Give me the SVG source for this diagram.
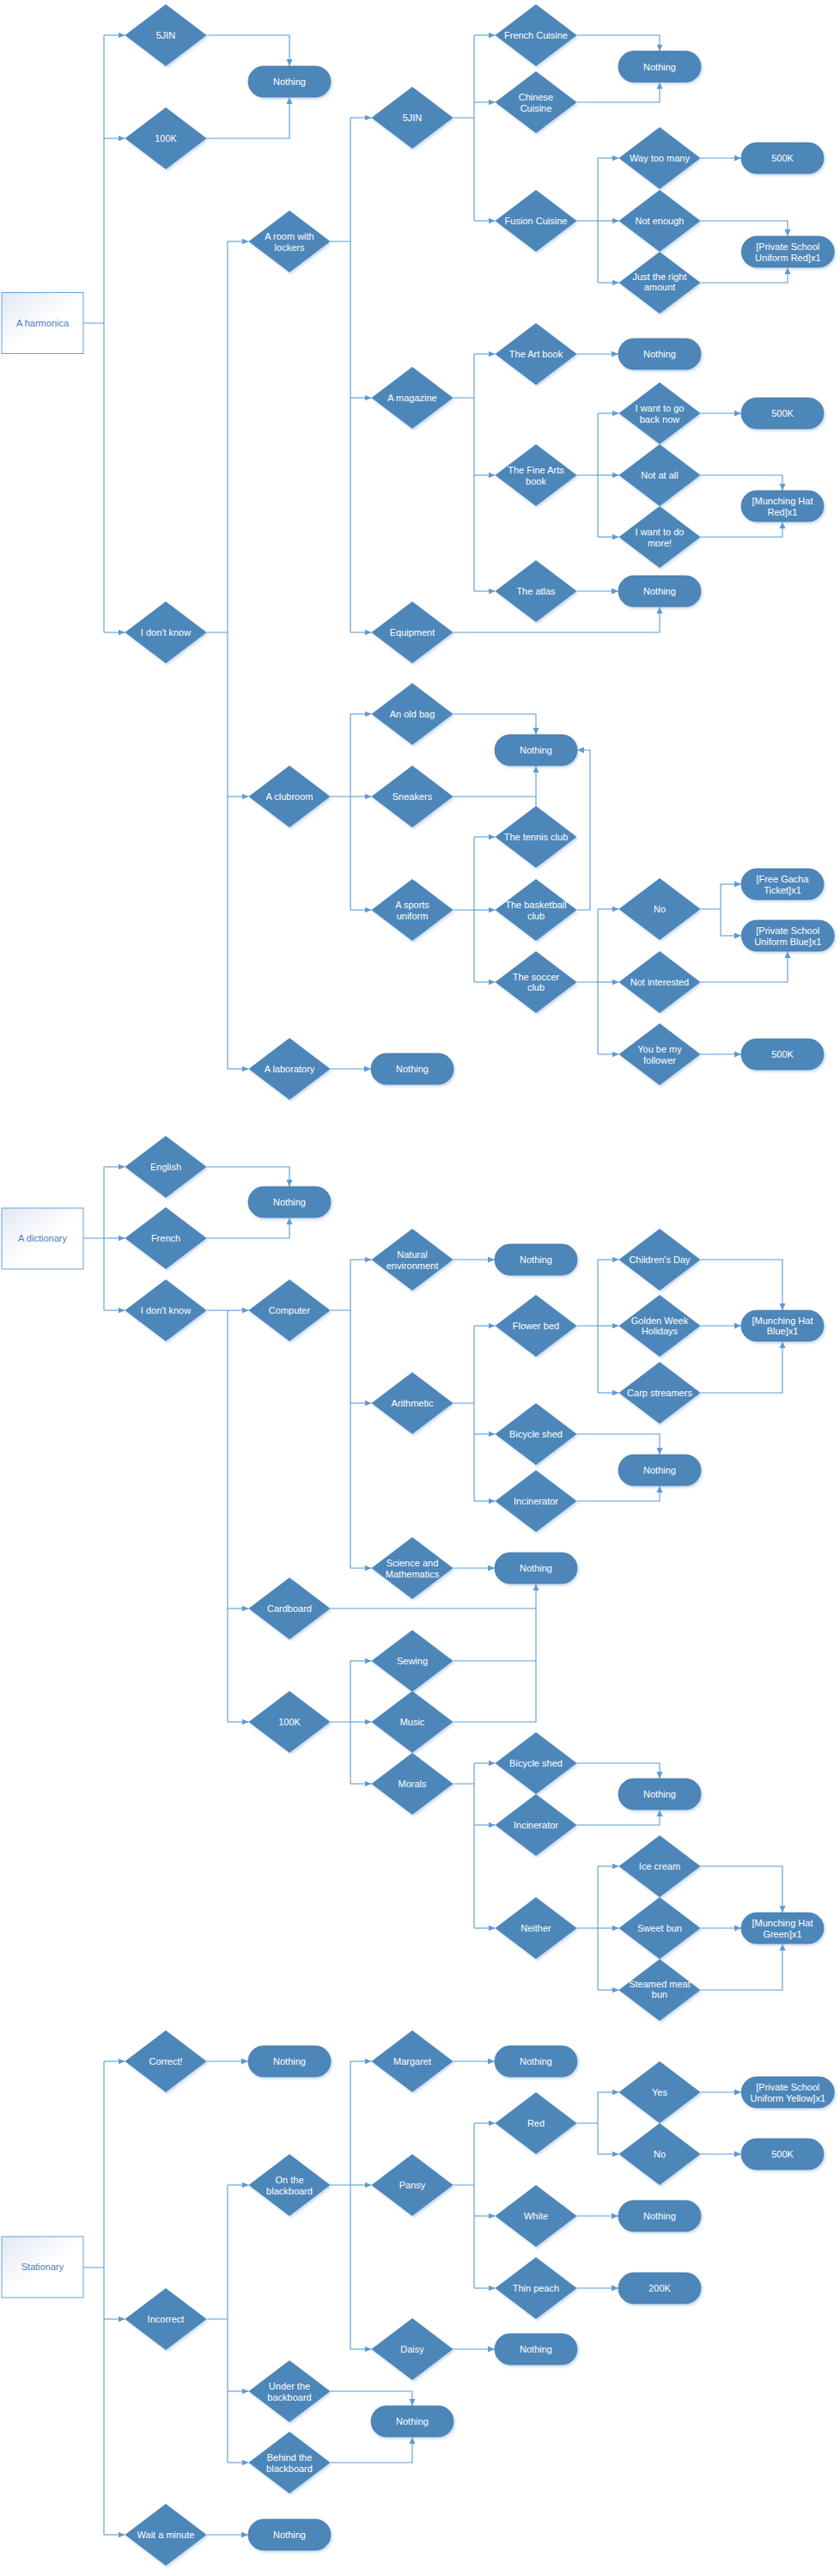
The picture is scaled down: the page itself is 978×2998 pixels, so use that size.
<svg xmlns="http://www.w3.org/2000/svg" xmlns:xlink="http://www.w3.org/1999/xlink" width="978" height="2998" viewBox="0 0 978 2998">
<style>
.t{font-family:"Liberation Sans",Arial,sans-serif;font-size:11px;fill:#ffffff;text-anchor:middle}
.rt{font-family:"Liberation Sans",Arial,sans-serif;font-size:11px;fill:#4A7EBB;text-anchor:middle}
.c{fill:none;stroke:#5B9BD5;stroke-width:1.1}
.a{marker-end:url(#arr)}
.n{filter:url(#sh)}
</style>
<defs>
<marker id="arr" markerWidth="9" markerHeight="8" refX="8" refY="4" orient="auto" markerUnits="userSpaceOnUse"><path d="M0,0.5 L8,4 L0,7.5 z" fill="#5B9BD5"/></marker>
<filter id="sh" x="-20%" y="-20%" width="150%" height="150%"><feDropShadow dx="1.5" dy="2" stdDeviation="1.5" flood-color="#9DC0E8" flood-opacity="0.6"/></filter>
<linearGradient id="rg" x1="0" y1="0" x2="1" y2="1"><stop offset="0" stop-color="#E2E8F4"/><stop offset="0.55" stop-color="#FFFFFF"/></linearGradient>
<polygon id="dia" points="0,-36 47.5,0 0,36 -47.5,0" fill="#4E86B9"/>
<rect id="term" x="-48" y="-18" width="96" height="36" rx="18" fill="#4E86B9" stroke="#4577A8" stroke-width="0.8"/>
<rect id="termw" x="-54" y="-18" width="108" height="36" rx="18" fill="#4E86B9" stroke="#4577A8" stroke-width="0.8"/>
</defs>
<rect width="978" height="2998" fill="#ffffff"/>

<g id="connectors">
<!-- Section 1 -->
<path class="c" d="M97,376 H121 M121,41 V736"/>
<path class="c a" d="M121,41 H145.5"/>
<path class="c a" d="M121,161 H145.5"/>
<path class="c a" d="M121,736 H145.5"/>
<path class="c a" d="M240.5,41 H337 V77"/>
<path class="c a" d="M240.5,161 H337 V113"/>
<path class="c" d="M240.5,736 H265 M265,281 V1244"/>
<path class="c a" d="M265,281 H289.5"/>
<path class="c a" d="M265,927 H289.5"/>
<path class="c a" d="M265,1244 H289.5"/>
<path class="c" d="M384.5,281 H408 M408,137 V736"/>
<path class="c a" d="M408,137 H432.5"/>
<path class="c a" d="M408,463 H432.5"/>
<path class="c a" d="M408,736 H432.5"/>
<path class="c" d="M527.5,137 H552 M552,41 V257"/>
<path class="c a" d="M552,41 H576.5"/>
<path class="c a" d="M552,119 H576.5"/>
<path class="c a" d="M552,257 H576.5"/>
<path class="c a" d="M671.5,41 H768 V59.5"/>
<path class="c a" d="M671.5,119 H768 V95.5"/>
<path class="c" d="M671.5,257 H696 M696,184 V329"/>
<path class="c a" d="M696,184 H720.5"/>
<path class="c a" d="M696,257 H720.5"/>
<path class="c a" d="M696,329 H720.5"/>
<path class="c a" d="M815.5,184 H863"/>
<path class="c a" d="M815.5,257 H917 V275"/>
<path class="c a" d="M815.5,329 H917 V311"/>
<path class="c" d="M527.5,463 H552 M552,412 V688"/>
<path class="c a" d="M552,412 H576.5"/>
<path class="c a" d="M552,553 H576.5"/>
<path class="c a" d="M552,688 H576.5"/>
<path class="c a" d="M671.5,412 H720"/>
<path class="c" d="M671.5,553 H696 M696,481 V625"/>
<path class="c a" d="M696,481 H720.5"/>
<path class="c a" d="M696,553 H720.5"/>
<path class="c a" d="M696,625 H720.5"/>
<path class="c a" d="M815.5,481 H863"/>
<path class="c a" d="M815.5,553 H911 V571"/>
<path class="c a" d="M815.5,625 H911 V607"/>
<path class="c a" d="M671.5,688 H720"/>
<path class="c a" d="M527.5,736 H768 V706"/>
<path class="c" d="M384.5,927 H408 M408,831 V1059"/>
<path class="c a" d="M408,831 H432.5"/>
<path class="c a" d="M408,927 H432.5"/>
<path class="c a" d="M408,1059 H432.5"/>
<path class="c a" d="M527.5,831 H624 V855"/>
<path class="c" d="M527.5,927 H624"/>
<path class="c a" d="M624,938 V891"/>
<path class="c" d="M527.5,1059 H552 M552,974 V1143"/>
<path class="c a" d="M552,974 H576.5"/>
<path class="c a" d="M552,1059 H576.5"/>
<path class="c a" d="M552,1143 H576.5"/>
<path class="c a" d="M671.5,1059 H687 V873 H672"/>
<path class="c" d="M671.5,1143 H696 M696,1058 V1227"/>
<path class="c a" d="M696,1058 H720.5"/>
<path class="c a" d="M696,1143 H720.5"/>
<path class="c a" d="M696,1227 H720.5"/>
<path class="c" d="M815.5,1058 H839 M839,1029 V1089"/>
<path class="c a" d="M839,1029 H863"/>
<path class="c a" d="M839,1089 H863"/>
<path class="c a" d="M815.5,1143 H917 V1107"/>
<path class="c a" d="M815.5,1227 H863"/>
<path class="c a" d="M384.5,1244 H432"/>
<!-- Section 2 -->
<path class="c" d="M97,1441 H121 M121,1358 V1525"/>
<path class="c a" d="M121,1358 H145.5"/>
<path class="c a" d="M121,1441 H145.5"/>
<path class="c a" d="M121,1525 H145.5"/>
<path class="c a" d="M240.5,1358 H337 V1381"/>
<path class="c a" d="M240.5,1441 H337 V1417"/>
<path class="c" d="M240.5,1525 H265 M265,1525 V2004"/>
<path class="c a" d="M265,1525 H289.5"/>
<path class="c a" d="M265,1872 H289.5"/>
<path class="c a" d="M265,2004 H289.5"/>
<path class="c" d="M384.5,1525 H408 M408,1466 V1825"/>
<path class="c a" d="M408,1466 H432.5"/>
<path class="c a" d="M408,1633 H432.5"/>
<path class="c a" d="M408,1825 H432.5"/>
<path class="c a" d="M527.5,1466 H576"/>
<path class="c" d="M527.5,1633 H552 M552,1543 V1747"/>
<path class="c a" d="M552,1543 H576.5"/>
<path class="c a" d="M552,1669 H576.5"/>
<path class="c a" d="M552,1747 H576.5"/>
<path class="c" d="M671.5,1543 H696 M696,1466 V1621"/>
<path class="c a" d="M696,1466 H720.5"/>
<path class="c a" d="M696,1543 H720.5"/>
<path class="c a" d="M696,1621 H720.5"/>
<path class="c a" d="M815.5,1466 H911 V1525"/>
<path class="c a" d="M815.5,1543 H863"/>
<path class="c a" d="M815.5,1621 H911 V1561"/>
<path class="c a" d="M671.5,1669 H768 V1693"/>
<path class="c a" d="M671.5,1747 H768 V1729"/>
<path class="c a" d="M527.5,1825 H576"/>
<path class="c" d="M384.5,1872 H624"/>
<path class="c" d="M384.5,2004 H408 M408,1933 V2076"/>
<path class="c a" d="M408,1933 H432.5"/>
<path class="c a" d="M408,2004 H432.5"/>
<path class="c a" d="M408,2076 H432.5"/>
<path class="c" d="M527.5,1933 H624"/>
<path class="c a" d="M527.5,2004 H624 V1843"/>
<path class="c" d="M527.5,2076 H552 M552,2052 V2244"/>
<path class="c a" d="M552,2052 H576.5"/>
<path class="c a" d="M552,2124 H576.5"/>
<path class="c a" d="M552,2244 H576.5"/>
<path class="c a" d="M671.5,2052 H768 V2070"/>
<path class="c a" d="M671.5,2124 H768 V2106"/>
<path class="c" d="M671.5,2244 H696 M696,2172 V2316"/>
<path class="c a" d="M696,2172 H720.5"/>
<path class="c a" d="M696,2244 H720.5"/>
<path class="c a" d="M696,2316 H720.5"/>
<path class="c a" d="M815.5,2172 H911 V2226"/>
<path class="c a" d="M815.5,2244 H863"/>
<path class="c a" d="M815.5,2316 H911 V2262"/>
<!-- Section 3 -->
<path class="c" d="M97,2639 H121 M121,2399 V2950"/>
<path class="c a" d="M121,2399 H145.5"/>
<path class="c a" d="M121,2699 H145.5"/>
<path class="c a" d="M121,2950 H145.5"/>
<path class="c a" d="M240.5,2399 H289"/>
<path class="c a" d="M240.5,2950 H289"/>
<path class="c" d="M240.5,2699 H265 M265,2543 V2866"/>
<path class="c a" d="M265,2543 H289.5"/>
<path class="c a" d="M265,2783 H289.5"/>
<path class="c a" d="M265,2866 H289.5"/>
<path class="c a" d="M384.5,2783 H480 V2800"/>
<path class="c a" d="M384.5,2866 H480 V2836"/>
<path class="c" d="M384.5,2543 H408 M408,2399 V2734"/>
<path class="c a" d="M408,2399 H432.5"/>
<path class="c a" d="M408,2543 H432.5"/>
<path class="c a" d="M408,2734 H432.5"/>
<path class="c a" d="M527.5,2399 H576"/>
<path class="c a" d="M527.5,2734 H576"/>
<path class="c" d="M527.5,2543 H552 M552,2471 V2663"/>
<path class="c a" d="M552,2471 H576.5"/>
<path class="c a" d="M552,2579 H576.5"/>
<path class="c a" d="M552,2663 H576.5"/>
<path class="c" d="M671.5,2471 H696 M696,2435 V2507"/>
<path class="c a" d="M696,2435 H720.5"/>
<path class="c a" d="M696,2507 H720.5"/>
<path class="c a" d="M815.5,2435 H863"/>
<path class="c a" d="M815.5,2507 H863"/>
<path class="c a" d="M671.5,2579 H720"/>
<path class="c a" d="M671.5,2663 H720"/>
</g>

<!-- Section 1 nodes -->
<g id="s1-root"><rect x="2" y="340.5" width="95" height="71" fill="url(#rg)" stroke="#6A9FD6" stroke-width="1"/><text class="rt" x="49.5" y="380">A harmonica</text></g>
<g id="s1-5jin"><use class="n" href="#dia" x="193" y="41"/><text class="t" x="193" y="45">5JIN</text></g>
<g id="s1-100k"><use class="n" href="#dia" x="193" y="161"/><text class="t" x="193" y="165">100K</text></g>
<g id="s1-nothing1"><use class="n" href="#term" x="337" y="95"/><text class="t" x="337" y="99">Nothing</text></g>
<g id="s1-idk"><use class="n" href="#dia" x="193" y="736"/><text class="t" x="193" y="740">I don't know</text></g>
<g id="s1-lockers"><use class="n" href="#dia" x="337" y="281"/><text class="t" x="337" y="278.5">A room with<tspan x="337" dy="13">lockers</tspan></text></g>
<g id="s1-clubroom"><use class="n" href="#dia" x="337" y="927"/><text class="t" x="337" y="931">A clubroom</text></g>
<g id="s1-lab"><use class="n" href="#dia" x="337" y="1244"/><text class="t" x="337" y="1248">A laboratory</text></g>
<g id="s1-lab-nothing"><use class="n" href="#term" x="480" y="1244"/><text class="t" x="480" y="1248">Nothing</text></g>
<g id="s1-5jin2"><use class="n" href="#dia" x="480" y="137"/><text class="t" x="480" y="141">5JIN</text></g>
<g id="s1-magazine"><use class="n" href="#dia" x="480" y="463"/><text class="t" x="480" y="467">A magazine</text></g>
<g id="s1-equipment"><use class="n" href="#dia" x="480" y="736"/><text class="t" x="480" y="740">Equipment</text></g>
<g id="s1-french"><use class="n" href="#dia" x="624" y="41"/><text class="t" x="624" y="45">French Cuisine</text></g>
<g id="s1-chinese"><use class="n" href="#dia" x="624" y="119"/><text class="t" x="624" y="116.5">Chinese<tspan x="624" dy="13">Cuisine</tspan></text></g>
<g id="s1-fusion"><use class="n" href="#dia" x="624" y="257"/><text class="t" x="624" y="261">Fusion Cuisine</text></g>
<g id="s1-cuisine-nothing"><use class="n" href="#term" x="768" y="77.5"/><text class="t" x="768" y="81.5">Nothing</text></g>
<g id="s1-waytoo"><use class="n" href="#dia" x="768" y="184"/><text class="t" x="768" y="188">Way too many</text></g>
<g id="s1-notenough"><use class="n" href="#dia" x="768" y="257"/><text class="t" x="768" y="261">Not enough</text></g>
<g id="s1-justright"><use class="n" href="#dia" x="768" y="329"/><text class="t" x="768" y="326">Just the right<tspan x="768" dy="12">amount</tspan></text></g>
<g id="s1-500k-a"><use class="n" href="#term" x="911" y="184"/><text class="t" x="911" y="188">500K</text></g>
<g id="s1-uniform-red"><use class="n" href="#termw" x="917.3" y="293"/><text class="t" x="917.3" y="290.5">[Private School<tspan x="917.3" dy="13">Uniform Red]x1</tspan></text></g>
<g id="s1-artbook"><use class="n" href="#dia" x="624" y="412"/><text class="t" x="624" y="416">The Art book</text></g>
<g id="s1-art-nothing"><use class="n" href="#term" x="768" y="412"/><text class="t" x="768" y="416">Nothing</text></g>
<g id="s1-finearts"><use class="n" href="#dia" x="624" y="553"/><text class="t" x="624" y="550.5">The Fine Arts<tspan x="624" dy="13">book</tspan></text></g>
<g id="s1-goback"><use class="n" href="#dia" x="768" y="481"/><text class="t" x="768" y="478.5">I want to go<tspan x="768" dy="13">back now</tspan></text></g>
<g id="s1-notatall"><use class="n" href="#dia" x="768" y="553"/><text class="t" x="768" y="557">Not at all</text></g>
<g id="s1-domore"><use class="n" href="#dia" x="768" y="625"/><text class="t" x="768" y="622.5">I want to do<tspan x="768" dy="13">more!</tspan></text></g>
<g id="s1-500k-b"><use class="n" href="#term" x="911" y="481"/><text class="t" x="911" y="485">500K</text></g>
<g id="s1-hat-red"><use class="n" href="#term" x="911" y="589"/><text class="t" x="911" y="586.5">[Munching Hat<tspan x="911" dy="13">Red]x1</tspan></text></g>
<g id="s1-atlas"><use class="n" href="#dia" x="624" y="688"/><text class="t" x="624" y="692">The atlas</text></g>
<g id="s1-atlas-nothing"><use class="n" href="#term" x="768" y="688"/><text class="t" x="768" y="692">Nothing</text></g>
<g id="s1-oldbag"><use class="n" href="#dia" x="480" y="831"/><text class="t" x="480" y="835">An old bag</text></g>
<g id="s1-sneakers"><use class="n" href="#dia" x="480" y="927"/><text class="t" x="480" y="931">Sneakers</text></g>
<g id="s1-sports"><use class="n" href="#dia" x="480" y="1059"/><text class="t" x="480" y="1056.5">A sports<tspan x="480" dy="13">uniform</tspan></text></g>
<g id="s1-club-nothing"><use class="n" href="#term" x="624" y="873"/><text class="t" x="624" y="877">Nothing</text></g>
<g id="s1-tennis"><use class="n" href="#dia" x="624" y="974"/><text class="t" x="624" y="978">The tennis club</text></g>
<g id="s1-basketball"><use class="n" href="#dia" x="624" y="1059"/><text class="t" x="624" y="1056.5">The basketball<tspan x="624" dy="13">club</tspan></text></g>
<g id="s1-soccer"><use class="n" href="#dia" x="624" y="1143"/><text class="t" x="624" y="1140.5">The soccer<tspan x="624" dy="12">club</tspan></text></g>
<g id="s1-no"><use class="n" href="#dia" x="768" y="1058"/><text class="t" x="768" y="1062">No</text></g>
<g id="s1-notint"><use class="n" href="#dia" x="768" y="1143"/><text class="t" x="768" y="1147">Not interested</text></g>
<g id="s1-follower"><use class="n" href="#dia" x="768" y="1227"/><text class="t" x="768" y="1224.5">You be my<tspan x="768" dy="13">follower</tspan></text></g>
<g id="s1-gacha"><use class="n" href="#term" x="911" y="1029"/><text class="t" x="911" y="1026.5">[Free Gacha<tspan x="911" dy="13">Ticket]x1</tspan></text></g>
<g id="s1-uniform-blue"><use class="n" href="#termw" x="917.3" y="1089"/><text class="t" x="917.3" y="1086.5">[Private School<tspan x="917.3" dy="13">Uniform Blue]x1</tspan></text></g>
<g id="s1-500k-c"><use class="n" href="#term" x="911" y="1227"/><text class="t" x="911" y="1231">500K</text></g>

<!-- Section 2 nodes -->
<g id="s2-root"><rect x="2" y="1406" width="95" height="71" fill="url(#rg)" stroke="#6A9FD6" stroke-width="1"/><text class="rt" x="49.5" y="1445">A dictionary</text></g>
<g id="s2-english"><use class="n" href="#dia" x="193" y="1358"/><text class="t" x="193" y="1362">English</text></g>
<g id="s2-french"><use class="n" href="#dia" x="193" y="1441"/><text class="t" x="193" y="1445">French</text></g>
<g id="s2-nothing1"><use class="n" href="#term" x="337" y="1399"/><text class="t" x="337" y="1403">Nothing</text></g>
<g id="s2-idk"><use class="n" href="#dia" x="193" y="1525"/><text class="t" x="193" y="1529">I don't know</text></g>
<g id="s2-computer"><use class="n" href="#dia" x="337" y="1525"/><text class="t" x="337" y="1529">Computer</text></g>
<g id="s2-cardboard"><use class="n" href="#dia" x="337" y="1872"/><text class="t" x="337" y="1876">Cardboard</text></g>
<g id="s2-100k"><use class="n" href="#dia" x="337" y="2004"/><text class="t" x="337" y="2008">100K</text></g>
<g id="s2-natural"><use class="n" href="#dia" x="480" y="1466"/><text class="t" x="480" y="1463.5">Natural<tspan x="480" dy="13">environment</tspan></text></g>
<g id="s2-natural-nothing"><use class="n" href="#term" x="624" y="1466"/><text class="t" x="624" y="1470">Nothing</text></g>
<g id="s2-arith"><use class="n" href="#dia" x="480" y="1633"/><text class="t" x="480" y="1637">Arithmetic</text></g>
<g id="s2-science"><use class="n" href="#dia" x="480" y="1825"/><text class="t" x="480" y="1822.5">Science and<tspan x="480" dy="13">Mathematics</tspan></text></g>
<g id="s2-science-nothing"><use class="n" href="#term" x="624" y="1825"/><text class="t" x="624" y="1829">Nothing</text></g>
<g id="s2-flower"><use class="n" href="#dia" x="624" y="1543"/><text class="t" x="624" y="1547">Flower bed</text></g>
<g id="s2-bike"><use class="n" href="#dia" x="624" y="1669"/><text class="t" x="624" y="1673">Bicycle shed</text></g>
<g id="s2-incin"><use class="n" href="#dia" x="624" y="1747"/><text class="t" x="624" y="1751">Incinerator</text></g>
<g id="s2-bike-nothing"><use class="n" href="#term" x="768" y="1711"/><text class="t" x="768" y="1715">Nothing</text></g>
<g id="s2-children"><use class="n" href="#dia" x="768" y="1466"/><text class="t" x="768" y="1470">Children's Day</text></g>
<g id="s2-golden"><use class="n" href="#dia" x="768" y="1543"/><text class="t" x="768" y="1540.5">Golden Week<tspan x="768" dy="12">Holidays</tspan></text></g>
<g id="s2-carp"><use class="n" href="#dia" x="768" y="1621"/><text class="t" x="768" y="1625">Carp streamers</text></g>
<g id="s2-hat-blue"><use class="n" href="#term" x="911" y="1543"/><text class="t" x="911" y="1540.5">[Munching Hat<tspan x="911" dy="12">Blue]x1</tspan></text></g>
<g id="s2-sewing"><use class="n" href="#dia" x="480" y="1933"/><text class="t" x="480" y="1937">Sewing</text></g>
<g id="s2-music"><use class="n" href="#dia" x="480" y="2004"/><text class="t" x="480" y="2008">Music</text></g>
<g id="s2-morals"><use class="n" href="#dia" x="480" y="2076"/><text class="t" x="480" y="2080">Morals</text></g>
<g id="s2-bike2"><use class="n" href="#dia" x="624" y="2052"/><text class="t" x="624" y="2056">Bicycle shed</text></g>
<g id="s2-incin2"><use class="n" href="#dia" x="624" y="2124"/><text class="t" x="624" y="2128">Incinerator</text></g>
<g id="s2-neither"><use class="n" href="#dia" x="624" y="2244"/><text class="t" x="624" y="2248">Neither</text></g>
<g id="s2-bike2-nothing"><use class="n" href="#term" x="768" y="2088"/><text class="t" x="768" y="2092">Nothing</text></g>
<g id="s2-icecream"><use class="n" href="#dia" x="768" y="2172"/><text class="t" x="768" y="2176">Ice cream</text></g>
<g id="s2-sweetbun"><use class="n" href="#dia" x="768" y="2244"/><text class="t" x="768" y="2248">Sweet bun</text></g>
<g id="s2-steamed"><use class="n" href="#dia" x="768" y="2316"/><text class="t" x="768" y="2313">Steamed meat<tspan x="768" dy="12">bun</tspan></text></g>
<g id="s2-hat-green"><use class="n" href="#term" x="911" y="2244"/><text class="t" x="911" y="2241.5">[Munching Hat<tspan x="911" dy="13">Green]x1</tspan></text></g>

<!-- Section 3 nodes -->
<g id="s3-root"><rect x="2" y="2603" width="95" height="71" fill="url(#rg)" stroke="#6A9FD6" stroke-width="1"/><text class="rt" x="49.5" y="2642">Stationary</text></g>
<g id="s3-correct"><use class="n" href="#dia" x="193" y="2399"/><text class="t" x="193" y="2403">Correct!</text></g>
<g id="s3-correct-nothing"><use class="n" href="#term" x="337" y="2399"/><text class="t" x="337" y="2403">Nothing</text></g>
<g id="s3-incorrect"><use class="n" href="#dia" x="193" y="2699"/><text class="t" x="193" y="2703">Incorrect</text></g>
<g id="s3-wait"><use class="n" href="#dia" x="193" y="2950"/><text class="t" x="193" y="2954">Wait a minute</text></g>
<g id="s3-wait-nothing"><use class="n" href="#term" x="337" y="2950"/><text class="t" x="337" y="2954">Nothing</text></g>
<g id="s3-onboard"><use class="n" href="#dia" x="337" y="2543"/><text class="t" x="337" y="2540.5">On the<tspan x="337" dy="13">blackboard</tspan></text></g>
<g id="s3-under"><use class="n" href="#dia" x="337" y="2783"/><text class="t" x="337" y="2780.5">Under the<tspan x="337" dy="13">backboard</tspan></text></g>
<g id="s3-behind"><use class="n" href="#dia" x="337" y="2866"/><text class="t" x="337" y="2863.5">Behind the<tspan x="337" dy="13">blackboard</tspan></text></g>
<g id="s3-board-nothing"><use class="n" href="#term" x="480" y="2818"/><text class="t" x="480" y="2822">Nothing</text></g>
<g id="s3-margaret"><use class="n" href="#dia" x="480" y="2399"/><text class="t" x="480" y="2403">Margaret</text></g>
<g id="s3-margaret-nothing"><use class="n" href="#term" x="624" y="2399"/><text class="t" x="624" y="2403">Nothing</text></g>
<g id="s3-pansy"><use class="n" href="#dia" x="480" y="2543"/><text class="t" x="480" y="2547">Pansy</text></g>
<g id="s3-daisy"><use class="n" href="#dia" x="480" y="2734"/><text class="t" x="480" y="2738">Daisy</text></g>
<g id="s3-daisy-nothing"><use class="n" href="#term" x="624" y="2734"/><text class="t" x="624" y="2738">Nothing</text></g>
<g id="s3-red"><use class="n" href="#dia" x="624" y="2471"/><text class="t" x="624" y="2475">Red</text></g>
<g id="s3-white"><use class="n" href="#dia" x="624" y="2579"/><text class="t" x="624" y="2583">White</text></g>
<g id="s3-peach"><use class="n" href="#dia" x="624" y="2663"/><text class="t" x="624" y="2667">Thin peach</text></g>
<g id="s3-yes"><use class="n" href="#dia" x="768" y="2435"/><text class="t" x="768" y="2439">Yes</text></g>
<g id="s3-no"><use class="n" href="#dia" x="768" y="2507"/><text class="t" x="768" y="2511">No</text></g>
<g id="s3-uniform-yellow"><use class="n" href="#termw" x="917.3" y="2435"/><text class="t" x="917.3" y="2432.5">[Private School<tspan x="917.3" dy="13">Uniform Yellow]x1</tspan></text></g>
<g id="s3-500k"><use class="n" href="#term" x="911" y="2507"/><text class="t" x="911" y="2511">500K</text></g>
<g id="s3-white-nothing"><use class="n" href="#term" x="768" y="2579"/><text class="t" x="768" y="2583">Nothing</text></g>
<g id="s3-200k"><use class="n" href="#term" x="768" y="2663"/><text class="t" x="768" y="2667">200K</text></g>
</svg>
